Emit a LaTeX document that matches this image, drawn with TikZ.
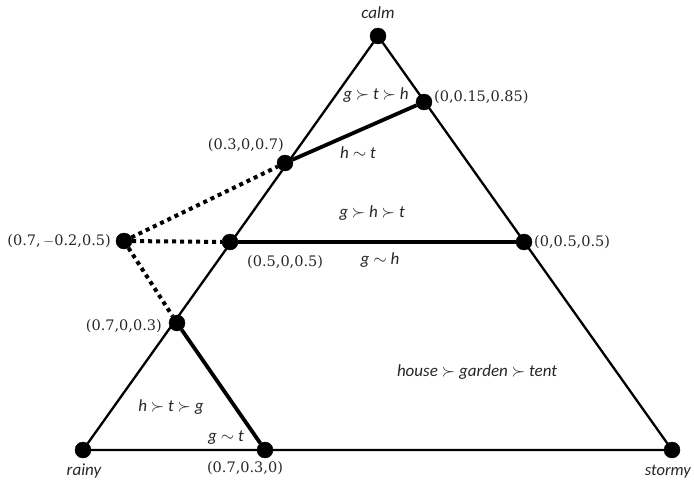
\documentclass[tikz,border=0pt]{standalone}
\usepackage{fontspec}
\setmainfont{DejaVu Serif}
\newfontfamily\labfont{Carlito}
\usetikzlibrary{backgrounds}
\begin{document}
\begin{tikzpicture}[x=1pt,y=-1pt,
  vtx/.style={circle,fill=black,draw=black,inner sep=0pt,minimum size=16pt},
  edge/.style={line width=2.3pt},
  heavy/.style={line width=4.3pt},
  dotline/.style={line width=4pt,dash pattern=on 4pt off 4pt},
  coordlbl/.style={font=\fontsize{14.5}{16}\selectfont,inner sep=0pt,text=black!85},
  lbl/.style={font=\labfont\itshape\fontsize{17}{19}\selectfont,inner sep=0pt,text=black!85}]
\useasboundingbox (0,0) rectangle (694,482);
% vertices
\node[vtx] (calm)   at (378,36) {};
\node[vtx] (rainy)  at (83,450) {};
\node[vtx] (stormy) at (672,450) {};
\node[vtx] (a) at (424,102) {};
\node[vtx] (b) at (285,163) {};
\node[vtx] (c) at (230,242) {};
\node[vtx] (d) at (524,242) {};
\node[vtx] (e) at (124,241) {};
\node[vtx] (f) at (177,323) {};
\node[vtx] (g) at (265,450) {};
% connectors
\begin{pgfonlayer}{background}
\draw[edge] (calm) -- (rainy) -- (stormy) -- (calm);
\draw[heavy,line width=3.8pt] (b) -- (a);
\draw[heavy] (c) -- (d);
\draw[heavy,line width=3.8pt] (f) -- (g);
\draw[dotline] (e) -- (b);
\draw[dotline] (e) -- (c);
\draw[dotline] (e) -- (f);
\end{pgfonlayer}
% corner labels
\node[lbl] (lcalm)   at (378,13) {calm};
\node[lbl] (lrainy)  at (84,471) {rainy};
\node[lbl,anchor=east,font=\labfont\itshape\fontsize{16.5}{19}\selectfont] (lstormy) at (691,472) {stormy};
% coordinate labels
\node[coordlbl,anchor=west] (la) at (434,97) {(0,0.15,0.85)};
\node[coordlbl,anchor=east] (lb) at (284,145) {(0.3,0,0.7)};
\node[coordlbl,anchor=west] (lc) at (247,262) {(0.5,0,0.5)};
\node[coordlbl,anchor=west] (ld) at (534,242) {(0,0.5,0.5)};
\node[coordlbl,anchor=east] (le) at (111,241) {(0.7,\,$-$0.2,0.5)};
\node[coordlbl,anchor=east] (lf) at (162,326) {(0.7,0,0.3)};
\node[coordlbl] (lg) at (245,468) {(0.7,0.3,0)};
% region labels
\node[lbl] (r1) at (376,95) {g $\succ$ t $\succ$ h};
\node[lbl] (r2) at (358,153) {h $\sim$ t};
\node[lbl] (r3) at (372,213) {g $\succ$ h $\succ$ t};
\node[lbl] (r4) at (380,260) {g $\sim$ h};
\node[lbl] (r5) at (477,372) {house $\succ$ garden $\succ$ tent};
\node[lbl] (r6) at (171,407) {h $\succ$ t $\succ$ g};
\node[lbl] (r7) at (226,438) {g $\sim$ t};
\end{tikzpicture}
\end{document}
